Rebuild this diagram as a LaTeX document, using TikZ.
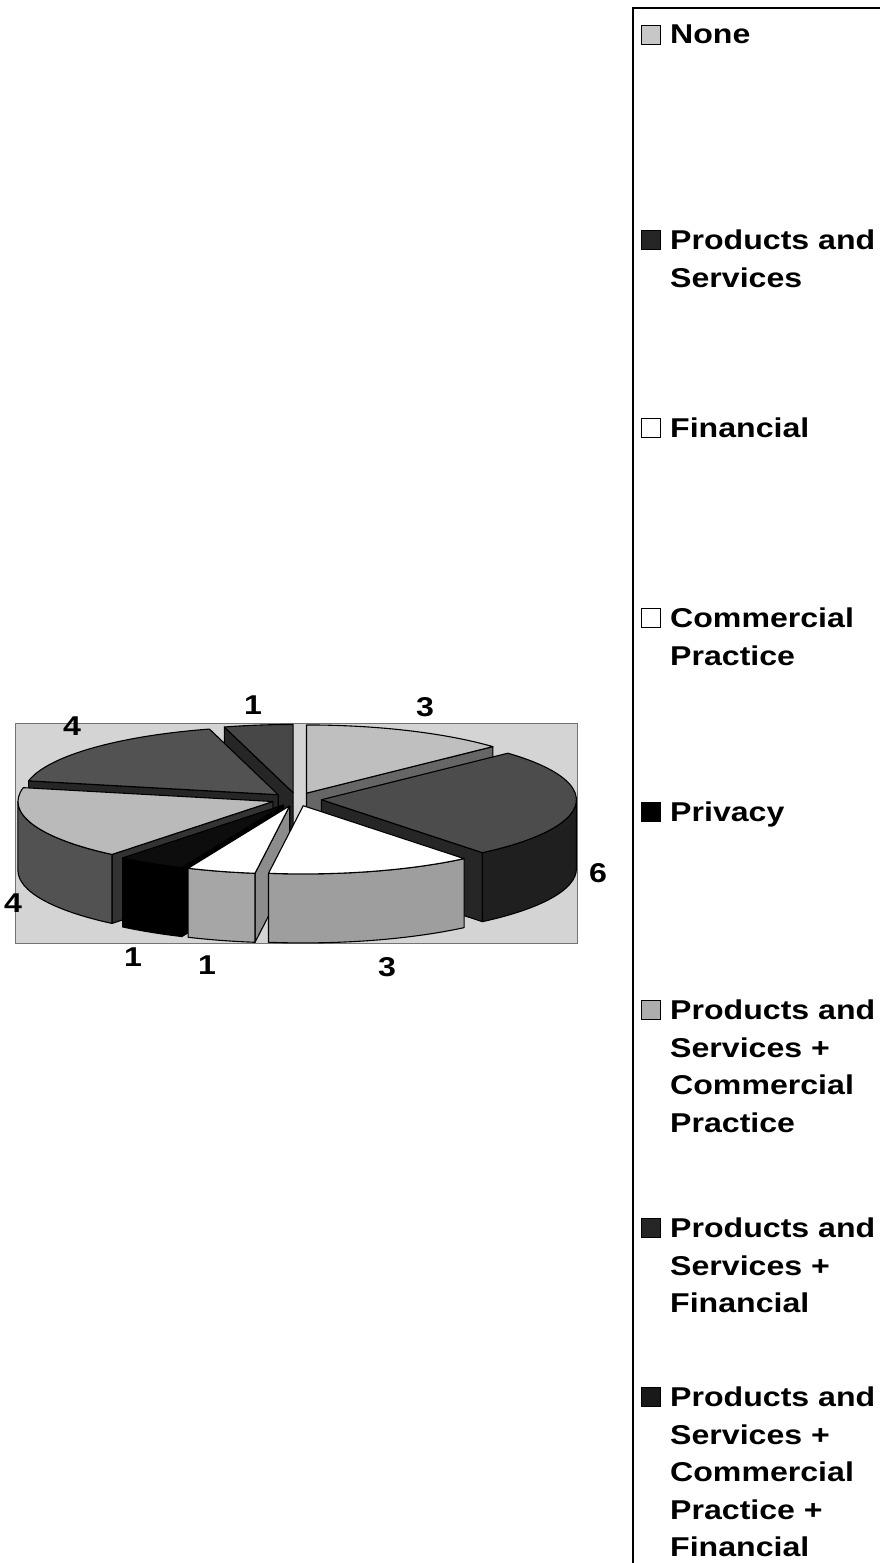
\documentclass[tikz,border=0pt]{standalone}
\usepackage{fontspec}
\newfontfamily\chartfont{Liberation Sans}[FakeStretch=1.18]
\usetikzlibrary{positioning}

\begin{document}
\begin{tikzpicture}[%
    ,x=1pt,y=1pt
    ,every node/.style = {%
        ,font=\chartfont\bfseries\fontsize{27.2}{37.5}\selectfont
        ,inner sep=0pt
        }
    ,legtext/.style = {anchor=north west, align=left}
    ,marker/.style = {draw, line width=0.8pt, minimum size=19pt}
    ,slice/.style = {draw=black, line width=1.1pt, line join=round}
    ]
\useasboundingbox (0,0) rectangle (880,1563);

% chart area
\draw[fill=black!17, draw=black!55, line width=1pt] (15,619) rectangle (577,839);

% pie: centre, radii, depth, explode
\def\cx{296.5} \def\cy{763.7} \def\rx{255} \def\ry{68.2} \def\dep{69} \def\ex{25}

% cut faces (angle/mid/colour)
\foreach \a/\m/\col in {105.65/97.83/black!85, 168.26/136.96/black!85, 43.04/66.52/black!60,
    -50.87/-3.91/black!85, -129.13/-160.43/black!80, -113.48/-121.30/black, -97.83/-105.65/black!45}
{
    \begin{scope}[shift={({\ex*cos(\m)},{\ex*\ry/\rx*sin(\m)})}]
    \filldraw[slice, fill=\col] (\cx,\cy) -- ({\cx+\rx*cos(\a)},{\cy+\ry*sin(\a)})
        -- ++(0,-\dep) -- (\cx,\cy-\dep) -- cycle;
    \end{scope}
}

% outer sides (from/to/mid/colour)
\foreach \a/\b/\m/\col in {-50.87/0/-3.91/black!88, -180/-129.13/-160.43/black!68,
    -129.13/-113.48/-121.30/black, -97.83/-50.87/-74.35/black!38, -113.48/-97.83/-105.65/black!35}
{
    \begin{scope}[shift={({\ex*cos(\m)},{\ex*\ry/\rx*sin(\m)})}]
    \filldraw[slice, fill=\col] ({\cx+\rx*cos(\a)},{\cy+\ry*sin(\a)})
        arc[start angle=\a, end angle=\b, x radius=\rx, y radius=\ry] -- ++(0,-\dep)
        arc[start angle=\b, end angle=\a, x radius=\rx, y radius=\ry] -- cycle;
    \end{scope}
}

% tops (from/to/mid/colour)
\foreach \a/\b/\m/\col in {43.04/90/66.52/black!25, 90/105.65/97.83/black!72,
    105.65/168.26/136.96/black!68, -50.87/43.04/-3.91/black!70, -191.74/-129.13/-160.43/black!27,
    -129.13/-113.48/-121.30/black!95, -113.48/-97.83/-105.65/white, -97.83/-50.87/-74.35/white}
{
    \begin{scope}[shift={({\ex*cos(\m)},{\ex*\ry/\rx*sin(\m)})}]
    \filldraw[slice, fill=\col] (\cx,\cy) -- ({\cx+\rx*cos(\a)},{\cy+\ry*sin(\a)})
        arc[start angle=\a, end angle=\b, x radius=\rx, y radius=\ry] -- cycle;
    \end{scope}
}

% data labels
\node (lbl-psf)   at (72,837)  {4};
\node (lbl-pscpf) at (253,858) {1};
\node (lbl-none)  at (425,856) {3};
\node (lbl-ps)    at (598,690) {6};
\node (lbl-pscp)  at (13,660)  {4};
\node (lbl-priv)  at (133,606) {1};
\node (lbl-cp)    at (207,598) {1};
\node (lbl-fin)   at (387,596) {3};

% legend
\draw[line width=1.2pt] (633,0) -- (633,1555) -- (880,1555);

\node (none)  [legtext] at (670,1538) {None};
\node (ps)    [legtext] at (670,1333) {Products and\\Services};
\node (fin)   [legtext] at (670,1145) {Financial};
\node (cp)    [legtext] at (670,955)  {Commercial\\Practice};
\node (priv)  [legtext] at (670,761)  {Privacy};
\node (pscp)  [legtext] at (670,563)  {Products and\\Services +\\Commercial\\Practice};
\node (psf)   [legtext] at (670,345)  {Products and\\Services +\\Financial};
\node (pscpf) [legtext] at (670,176)  {Products and\\Services +\\Commercial\\Practice +\\Financial};

\node (mk-none)  [marker, fill=black!22, below left=0pt and 9pt of none.north west] {};
\node (mk-ps)    [marker, fill=black!85, below left=0pt and 9pt of ps.north west] {};
\node (mk-fin)   [marker, fill=white,    below left=0pt and 9pt of fin.north west] {};
\node (mk-cp)    [marker, fill=white,    below left=0pt and 9pt of cp.north west] {};
\node (mk-priv)  [marker, fill=black,    below left=0pt and 9pt of priv.north west] {};
\node (mk-pscp)  [marker, fill=black!32, below left=0pt and 9pt of pscp.north west] {};
\node (mk-psf)   [marker, fill=black!85, below left=0pt and 9pt of psf.north west] {};
\node (mk-pscpf) [marker, fill=black!90, below left=0pt and 9pt of pscpf.north west] {};
\end{tikzpicture}
\end{document}
